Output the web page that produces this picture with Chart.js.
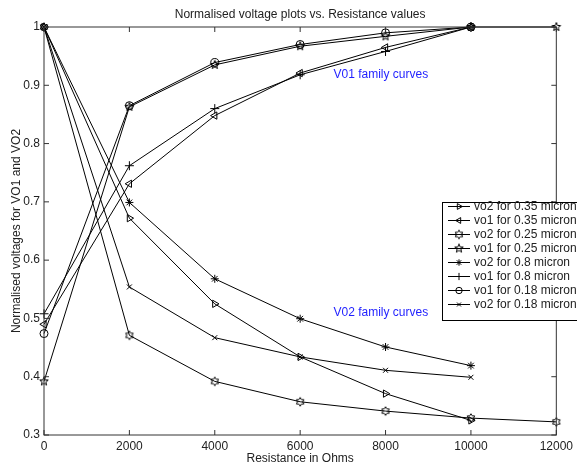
<!DOCTYPE html>
<html>
<head>
<meta charset="UTF-8">
<title>Normalised voltage plots</title>
<script src="https://cdn.jsdelivr.net/npm/chart.js"></script>
<style>
  body { margin: 0; background: #fff; }
  canvas { display: block; }
</style>
</head>
<body>
<canvas id="myChart" width="577" height="467"></canvas>
<script>
// resistance values (x axis)
var resistance = [0, 2000, 4000, 6000, 8000, 10000, 12000];

// normalised voltages
var vo2_035 = [1, 0.672, 0.525, 0.434, 0.371, 0.325];
var vo1_035 = [0.49, 0.731, 0.848, 0.921, 0.965, 1.0];
var vo2_025 = [1, 0.471, 0.392, 0.357, 0.341, 0.329, 0.3225];
var vo1_025 = [0.392, 0.863, 0.935, 0.967, 0.984, 1.0, 1.0];
var vo2_08  = [1, 0.699, 0.568, 0.4995, 0.451, 0.419];
var vo1_08  = [0.508, 0.762, 0.860, 0.918, 0.958, 1.0];
var vo1_018 = [0.474, 0.865, 0.939, 0.970, 0.990, 1.0];
var vo2_018 = [1, 0.554, 0.467, 0.434, 0.411, 0.399];

var seriesNames = ['vo2 for 0.35 micron', 'vo1 for 0.35 micron', 'vo2 for 0.25 micron', 'vo1 for 0.25 micron',
                   'vo2 for 0.8 micron', 'vo1 for 0.8 micron', 'vo1 for 0.18 micron', 'vo2 for 0.18 micron'];

var xTicks = [0, 2000, 4000, 6000, 8000, 10000, 12000];
var yTicks = [0.3, 0.4, 0.5, 0.6, 0.7, 0.8, 0.9, 1];

// text labels in data coordinates
var noteText = ['V01 family curves', 'V02 family curves'];
var noteX = [6780, 6780];
var noteY = [0.919, 0.509];

function pts(vals) {
  return vals.map(function (v, i) { return { x: resistance[i], y: v }; });
}

// star markers that chart.js doesn't have
function starMarker(n, rOut, rIn) {
  var c = document.createElement('canvas');
  c.width = 12; c.height = 12;
  var g = c.getContext('2d');
  g.strokeStyle = '#000';
  g.lineWidth = 1;
  g.beginPath();
  for (var k = 0; k < n * 2; k++) {
    var r = k % 2 === 0 ? rOut : rIn;
    var a = -Math.PI / 2 + k * Math.PI / n;
    var px = 6 + r * Math.cos(a), py = 6 + r * Math.sin(a);
    if (k === 0) g.moveTo(px, py); else g.lineTo(px, py);
  }
  g.closePath();
  g.stroke();
  return c;
}
var pentagram = starMarker(5, 4.5, 1.9);
var hexagram = starMarker(6, 4.3, 2.6);

function ds(i, vals, style, radius, rot) {
  return {
    label: seriesNames[i],
    data: pts(vals),
    borderColor: '#000',
    borderWidth: 1,
    pointStyle: style,
    pointRadius: radius,
    pointRotation: rot || 0,
    pointBorderColor: '#000',
    pointBackgroundColor: 'rgba(0,0,0,0)',
    pointBorderWidth: 1,
    tension: 0,
    clip: false
  };
}

var datasets = [
  ds(0, vo2_035, 'triangle', 4.2, 90),
  ds(1, vo1_035, 'triangle', 4.2, -90),
  ds(2, vo2_025, hexagram, 5),
  ds(3, vo1_025, pentagram, 5),
  ds(4, vo2_08, 'star', 4),
  ds(5, vo1_08, 'cross', 4.5),
  ds(6, vo1_018, 'circle', 4),
  ds(7, vo2_018, 'crossRot', 3.5)
];

// box, inward ticks, titles, notes and the matlab style legend
var decor = {
  id: 'decor',
  afterDraw: function (chart) {
    var ctx = chart.ctx, a = chart.chartArea;
    var xs = chart.scales.x, ys = chart.scales.y;
    ctx.save();
    ctx.strokeStyle = '#333';
    ctx.lineWidth = 1;
    ctx.strokeRect(a.left, a.top, a.right - a.left, a.bottom - a.top);
    ctx.beginPath();
    xTicks.forEach(function (t) {
      var px = xs.getPixelForValue(t);
      ctx.moveTo(px, a.bottom); ctx.lineTo(px, a.bottom - 5);
      ctx.moveTo(px, a.top); ctx.lineTo(px, a.top + 5);
    });
    yTicks.forEach(function (t) {
      var py = ys.getPixelForValue(t);
      ctx.moveTo(a.left, py); ctx.lineTo(a.left + 5, py);
      ctx.moveTo(a.right, py); ctx.lineTo(a.right - 5, py);
    });
    ctx.stroke();

    ctx.fillStyle = '#222';
    ctx.font = '12px "Liberation Sans", Arial, sans-serif';
    ctx.textAlign = 'center';
    ctx.textBaseline = 'middle';
    ctx.fillText('Normalised voltage plots vs. Resistance values', (a.left + a.right) / 2, 15);
    ctx.fillText('Resistance in Ohms', (a.left + a.right) / 2, 459);
    ctx.save();
    ctx.translate(17, (a.top + a.bottom) / 2);
    ctx.rotate(-Math.PI / 2);
    ctx.fillText('Normalised voltages for VO1 and VO2', 0, 0);
    ctx.restore();

    ctx.fillStyle = '#1f1fff';
    ctx.textAlign = 'left';
    for (var n = 0; n < noteText.length; n++) {
      ctx.fillText(noteText[n], xs.getPixelForValue(noteX[n]), ys.getPixelForValue(noteY[n]));
    }

    // legend
    var lx = 442, ly = 202, lh = 14;
    ctx.fillStyle = '#fff';
    ctx.fillRect(lx, ly, 140, lh * datasets.length + 6);
    ctx.strokeStyle = '#000';
    ctx.strokeRect(lx + 0.5, ly + 0.5, 140, lh * datasets.length + 6);
    ctx.textAlign = 'left';
    datasets.forEach(function (d, i) {
      var y = ly + 4 + i * lh + 0.5;
      ctx.strokeStyle = '#000';
      ctx.lineWidth = 1;
      ctx.beginPath();
      ctx.moveTo(448, y); ctx.lineTo(470, y);
      ctx.stroke();
      ctx.fillStyle = 'rgba(0,0,0,0)';
      if (Chart.helpers && Chart.helpers.drawPoint) {
        Chart.helpers.drawPoint(ctx, {
          pointStyle: d.pointStyle, rotation: d.pointRotation,
          radius: d.pointRadius * 0.8, borderWidth: 1
        }, 459, y);
      }
      ctx.fillStyle = '#222';
      ctx.fillText(d.label, 474, y);
    });
    ctx.restore();
  }
};

var config = {
  type: 'line',
  data: { datasets: datasets },
  options: {
    responsive: false,
    devicePixelRatio: 1,
    animation: false,
    events: [],
    layout: { padding: { top: 27, right: 18, left: 0, bottom: 0 } },
    plugins: { legend: { display: false }, title: { display: false }, tooltip: { enabled: false } },
    scales: {
      x: {
        type: 'linear',
        min: 0, max: 12000,
        afterBuildTicks: function (s) { s.ticks = xTicks.map(function (v) { return { value: v }; }); },
        afterFit: function (s) { s.height = 32; },
        grid: { display: false, drawTicks: false },
        border: { display: false },
        ticks: { autoSkip: false, maxRotation: 0, padding: 4, color: '#222',
                 font: { family: '"Liberation Sans", Arial, sans-serif', size: 12 },
                 callback: function (v) { return String(v); } }
      },
      y: {
        min: 0.3, max: 1,
        afterBuildTicks: function (s) { s.ticks = yTicks.map(function (v) { return { value: v }; }); },
        afterFit: function (s) { s.width = 44; },
        grid: { display: false, drawTicks: false },
        border: { display: false },
        ticks: { autoSkip: false, padding: 4, color: '#222',
                 font: { family: '"Liberation Sans", Arial, sans-serif', size: 12 },
                 callback: function (v) { return String(Number(v.toFixed(1))); } }
      }
    }
  },
  plugins: [decor]
};

let ctx = document.getElementById('myChart').getContext('2d');
const myChart = new Chart(ctx, config);
</script>
</body>
</html>
